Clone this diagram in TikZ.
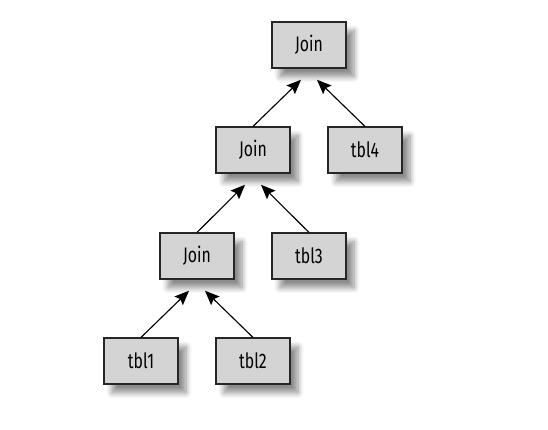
\documentclass[tikz,border=0pt]{standalone}
\usepackage{fontspec}
\setmainfont[FakeStretch=0.75]{Fira Sans}
\usetikzlibrary{arrows.meta}
\usetikzlibrary{shadows.blur}

\tikzset{
    tblbox/.style={draw=black!85,line width=0.8pt,fill=black!17,minimum width=1.85cm,minimum height=1.15cm,
        inner sep=0pt,font=\fontsize{15}{17}\selectfont,
        blur shadow={shadow xshift=0.2cm,shadow yshift=-0.22cm,shadow blur radius=0.14cm,shadow blur steps=8,shadow opacity=45}},
    joinarrow/.style={-{Stealth[length=3.6mm,width=3mm,inset=0.6mm]},line width=0.8pt,black}
}

\begin{document}
\begin{tikzpicture}
    \useasboundingbox (0,0) rectangle (13.7,-10.75);

    % join nodes
    \node[tblbox] (join1) at (7.725,-1.125) {Join};
    \node[tblbox] (join2) at (6.325,-3.75) {Join};
    \node[tblbox] (join3) at (4.925,-6.4) {Join};

    % tables
    \node[tblbox] (tbl4) at (9.125,-3.75) {tbl4};
    \node[tblbox] (tbl3) at (7.725,-6.4) {tbl3};
    \node[tblbox] (tbl1) at (3.525,-9.025) {tbl1};
    \node[tblbox] (tbl2) at (6.325,-9.025) {tbl2};

    % arrows up to the joins
    \draw[joinarrow] (join2.north) -- ([xshift=-0.2cm,yshift=-0.28cm]join1.south);
    \draw[joinarrow] (tbl4.north) -- ([xshift=0.2cm,yshift=-0.28cm]join1.south);
    \draw[joinarrow] (join3.north) -- ([xshift=-0.2cm,yshift=-0.28cm]join2.south);
    \draw[joinarrow] (tbl3.north) -- ([xshift=0.2cm,yshift=-0.28cm]join2.south);
    \draw[joinarrow] (tbl1.north) -- ([xshift=-0.2cm,yshift=-0.28cm]join3.south);
    \draw[joinarrow] (tbl2.north) -- ([xshift=0.2cm,yshift=-0.28cm]join3.south);
\end{tikzpicture}
\end{document}
